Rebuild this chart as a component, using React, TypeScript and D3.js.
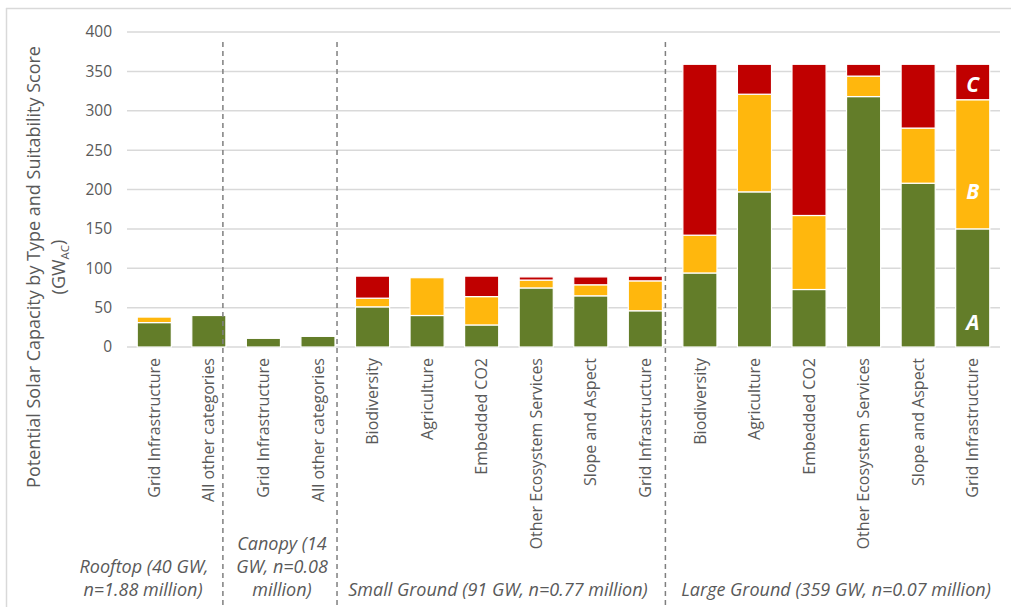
import * as d3 from "d3";

// categories (by group) and stacked values A/B/C in GW
const groups = ["Rooftop", "Rooftop", "Canopy", "Canopy", "Small", "Small", "Small", "Small", "Small", "Small", "Large", "Large", "Large", "Large", "Large", "Large"];
const categories = [
  "Grid Infrastructure", "All other categories",
  "Grid Infrastructure", "All other categories",
  "Biodiversity", "Agriculture", "Embedded CO2", "Other Ecosystem Services", "Slope and Aspect", "Grid Infrastructure",
  "Biodiversity", "Agriculture", "Embedded CO2", "Other Ecosystem Services", "Slope and Aspect", "Grid Infrastructure",
];
const scoreA = [31, 40, 11, 13.5, 51, 40, 28, 75, 65, 46, 94, 197, 73, 318, 208, 150];
const scoreB = [7, 0, 0, 0, 11, 48, 36, 10, 14, 38, 48, 124, 94, 26, 70, 164];
const scoreC = [0, 0, 0, 0, 28, 0, 26, 4, 10, 6, 217, 38, 192, 15, 81, 45];
const yTicks = [0, 50, 100, 150, 200, 250, 300, 350, 400];
const sepAfter = [1, 3, 9];
const sepNudge = [-3, 2, 3];

const W = 1011;
const H = 607;
const FONT = "'Open Sans', Lato, sans-serif";
const GREY = "#595959";
const colors = { A: "#637d29", B: "#ffb70d", C: "#c00000" };
// label offset from bottom of its segment in the last bar
const labelNudge = { A: -24, B: -37, C: -15 };

export default function App() {
  const ids = categories.map((_, i) => String(i));
  const x = d3.scaleBand().domain(ids).range([127, 1000]).paddingInner(0.375).paddingOuter(0.1875);
  const y = d3.scaleLinear().domain([0, 400]).range([347, 32]);

  const rows = categories.map((c, i) => ({ id: String(i), A: scoreA[i], B: scoreB[i], C: scoreC[i] }));
  const stack = d3.stack<any>().keys(["A", "B", "C"])(rows);
  const bw = x.bandwidth();
  const last = rows.length - 1;

  return (
    <svg width={W} height={H} style={{ position: "absolute", left: 0, top: 0, background: "#fff" }} fontFamily={FONT}>
      {/* frame */}
      <line x1={6.5} x2={6.5} y1={8} y2={H} stroke="#d9d9d9" strokeWidth={1.5} />
      <line x1={6} x2={W} y1={8.5} y2={8.5} stroke="#d9d9d9" strokeWidth={1.5} />

      {/* grid + y ticks */}
      {yTicks.map((t) => (
        <g key={t}>
          <line x1={127} x2={1000} y1={y(t)} y2={y(t)} stroke="#d9d9d9" strokeWidth={1.5} />
          <text x={112} y={y(t)} dy="0.35em" textAnchor="end" fontSize={15.5} fill={GREY}>{t}</text>
        </g>
      ))}

      {/* bars */}
      {stack.map((layer) => (
        <g key={layer.key} fill={(colors as any)[layer.key]}>
          {layer.map((d, i) =>
            d[1] - d[0] > 0 ? (
              <rect key={i} x={x(ids[i])} y={y(d[1])} width={bw} height={y(d[0]) - y(d[1])} stroke="#fff" strokeWidth={1.2} />
            ) : null
          )}
        </g>
      ))}

      {/* A/B/C markers in last bar */}
      {stack.map((layer) => {
        const d = layer[last];
        return (
          <text key={layer.key} x={x(ids[last])! + bw / 2} y={y(d[0]) + (labelNudge as any)[layer.key]}
            dy="0.35em" textAnchor="middle" fontSize={21} fontWeight="bold" fontStyle="italic" fill="#fff">{layer.key}</text>
        );
      })}

      {/* separators */}
      {sepAfter.map((s, k) => {
        const sx = x(ids[s])! + bw + sepNudge[k];
        return <line key={s} x1={sx} x2={sx} y1={42} y2={H} stroke="#7f7f7f" strokeWidth={1.5} strokeDasharray="5,4" />;
      })}

      {/* category labels */}
      {categories.map((c, i) => (
        <text key={i} transform={`translate(${x(ids[i])! + bw / 2},358) rotate(-90)`} dy="0.35em" textAnchor="end" fontSize={16} fill={GREY}>{c}</text>
      ))}

      {/* group labels */}
      <g fontStyle="italic" fontSize={18} fill={GREY} textAnchor="middle">
        <text x={144} y={573}>Rooftop  (40 GW,</text>
        <text x={143} y={596}>n=1.88 million)</text>
        <text x={282} y={550}>Canopy (14</text>
        <text x={282} y={573}>GW, n=0.08</text>
        <text x={282} y={596}>million)</text>
        <text x={498} y={596}>Small Ground (91 GW, n=0.77 million)</text>
        <text x={836} y={596}>Large Ground (359 GW, n=0.07 million)</text>
      </g>

      {/* y title */}
      <text transform="translate(34,267) rotate(-90)" dy="0.35em" textAnchor="middle" fontSize={18} fill={GREY}>
        Potential Solar Capacity by Type and Suitability Score
      </text>
      <text transform="translate(59,267) rotate(-90)" dy="0.35em" textAnchor="middle" fontSize={18} fill={GREY}>
        (GW<tspan fontSize={11.5} dy="0.35em">AC</tspan><tspan dy="-0.3em">)</tspan>
      </text>
    </svg>
  );
}
